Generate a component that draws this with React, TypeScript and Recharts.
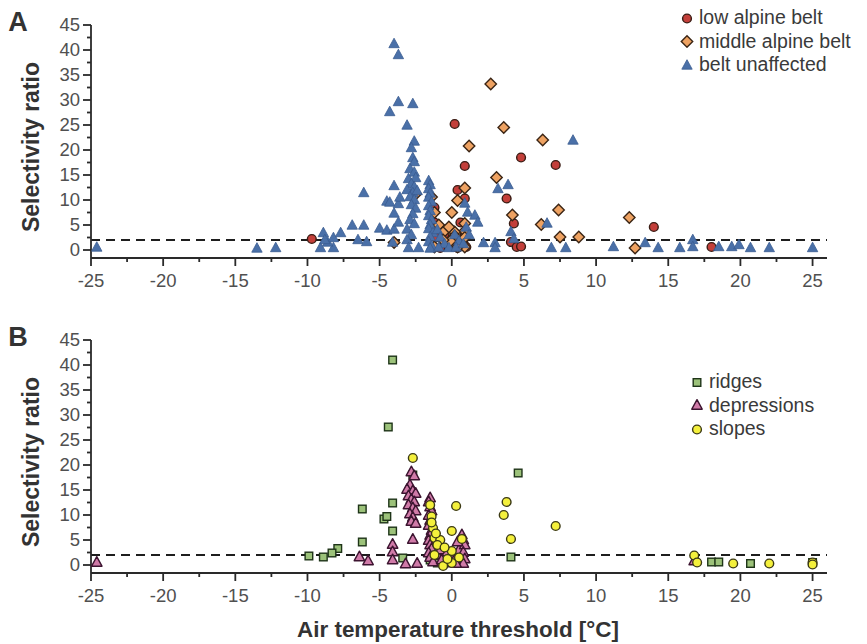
import React from 'react';
import { ScatterChart, Scatter, XAxis, YAxis, ReferenceLine, Legend } from 'recharts';

const FONT = "'Liberation Sans', Arial, sans-serif";

// axis ticks (majors every 5 get a label, the rest are minor marks)
const xTicks = [-25, -22.5, -20, -17.5, -15, -12.5, -10, -7.5, -5, -2.5, 0, 2.5, 5, 7.5, 10, 12.5, 15, 17.5, 20, 22.5, 25];
const yTicks = [0, 2.5, 5, 7.5, 10, 12.5, 15, 17.5, 20, 22.5, 25, 27.5, 30, 32.5, 35, 37.5, 40, 42.5, 45];
const threshold = 2;

// panel A: altitudinal belt
const lowAlpine: [number, number][] = [
  [-9.7, 2.2], [0.2, 25.2], [0.9, 16.8], [0.4, 12.0], [0.9, 10.3], [-1.2, 8.5], [4.8, 18.5], [7.2, 17.0],
  [3.8, 10.3], [4.3, 5.3], [4.1, 1.6], [4.5, 0.6], [4.8, 0.7], [-0.8, 0.4], [0.4, 0.4], [14.0, 4.6], [18.0, 0.6],
  [-1.4, 7.0], [-1.2, 5.5], [-0.9, 4.2], [-0.5, 3.2], [0.0, 2.0], [-0.3, 1.2], [0.9, 3.0], [0.8, 1.5], [1.0, 0.6],
  [-1.1, 2.5], [0.6, 5.5],
];
const middleAlpine: [number, number][] = [
  [2.7, 33.2], [3.6, 24.5], [1.2, 20.8], [6.3, 22.0], [-2.5, 11.2], [3.1, 14.5], [-1.4, 10.6], [0.9, 12.4],
  [0.4, 9.9], [0.0, 7.5], [-1.2, 7.5], [4.2, 7.0], [7.4, 8.0], [6.2, 5.1], [-4.0, 1.5], [8.8, 2.6], [7.5, 2.6],
  [0.9, 5.3], [0.9, 3.8], [-0.9, 5.0], [-0.5, 3.8], [0.2, 3.6], [0.2, 2.8], [0.9, 2.5], [0.9, 0.6], [0.4, 0.6],
  [-1.2, 0.6], [-0.1, 1.8], [12.3, 6.5], [12.7, 0.4], [-0.6, 2.0], [-0.2, 4.6],
];
const beltUnaffected: [number, number][] = [
  [-24.6, 0.5], [-13.5, 0.3], [-12.2, 0.4],
  [-9.1, 0.4], [-8.2, 0.4], [-8.9, 3.4], [-8.6, 1.5], [-8.2, 2.4], [-7.7, 3.4], [-8.8, 2.0],
  [-6.9, 4.9], [-6.5, 2.0], [-6.1, 4.9], [-5.9, 1.6], [-6.1, 11.4],
  [-5.0, 4.3], [-4.5, 3.9], [-4.0, 4.1], [-4.5, 9.7], [-4.3, 9.5], [-4.0, 12.8], [-4.0, 7.3], [-3.7, 5.5],
  [-3.7, 9.2], [-3.6, 10.5],
  [-4.0, 41.2], [-3.7, 39.0], [-3.7, 29.6], [-2.7, 29.2], [-4.3, 27.6], [-3.1, 24.9], [-2.6, 21.7], [-2.8, 20.4],
  [-2.7, 18.4], [-2.6, 17.6],
  [-2.9, 16.2], [-2.6, 15.5], [-3.0, 14.2], [-2.5, 14.4], [-2.8, 13.2], [-2.6, 12.6], [-3.1, 12.0], [-2.7, 11.4],
  [-2.4, 11.8], [-2.9, 10.6], [-2.6, 10.0], [-2.8, 9.0], [-2.5, 8.3], [-2.7, 7.2], [-2.9, 6.0], [-2.6, 5.2],
  [-3.1, 4.1], [-2.8, 3.0], [-3.1, 2.0], [-3.0, 0.4], [-2.3, 0.4], [-4.1, 1.5],
  [-1.6, 13.8], [-1.5, 13.0], [-1.6, 12.2], [-1.5, 11.3], [-1.6, 10.5], [-1.4, 9.6], [-1.6, 8.8], [-1.5, 7.8],
  [-1.6, 6.8], [-1.4, 6.0], [-1.5, 5.0], [-1.6, 4.2], [-1.3, 3.4], [-1.5, 2.6], [-1.6, 1.6], [-1.4, 0.8], [-1.5, 0.3],
  [-1.0, 4.0], [-0.8, 2.5], [-0.5, 1.2], [-0.2, 0.4], [0.2, 3.0], [0.5, 1.8], [0.3, 0.5], [-0.9, 0.5],
  [0.9, 9.3], [1.1, 7.5], [1.6, 6.9], [1.8, 5.5], [1.0, 4.5], [1.2, 3.0], [0.8, 1.2], [2.2, 1.4], [3.0, 1.4],
  [3.0, 0.4], [3.2, 12.2], [3.9, 13.0], [4.1, 3.6], [4.3, 2.2],
  [8.4, 21.9], [6.6, 5.3], [6.9, 0.4], [7.9, 0.4],
  [11.2, 0.6], [13.4, 1.4], [14.3, 0.4], [15.8, 0.4], [16.7, 2.0], [16.7, 0.6], [18.5, 0.6], [19.4, 0.6],
  [19.9, 1.0], [20.7, 0.4], [22.0, 0.4], [25.0, 0.4],
];

// panel B: landform
const ridges: [number, number][] = [
  [-4.1, 41.0], [-4.4, 27.6], [4.6, 18.4], [-2.7, 18.0], [-4.1, 12.4], [-6.2, 11.2], [-4.7, 9.2], [-4.5, 9.7],
  [-4.1, 6.8], [-6.2, 4.6], [-7.9, 3.3], [-8.3, 2.4], [-8.9, 1.6], [-9.9, 1.8], [-3.4, 1.4], [4.1, 1.6],
  [18.0, 0.6], [18.5, 0.6], [20.7, 0.3], [25.0, 0.5], [-1.5, 1.0], [-1.0, 0.4], [0.5, 0.8],
];
const depressions: [number, number][] = [
  [-24.6, 0.5], [-6.4, 1.6], [-5.8, 0.8], [-4.1, 4.1], [-4.1, 2.6], [-4.1, 1.0], [-3.2, 0.2], [-2.4, 0.3], [-2.7, 5.1],
  [-2.8, 18.6], [-2.6, 17.8], [-2.9, 16.0], [-3.1, 15.1], [-2.7, 14.8], [-2.5, 14.3], [-3.0, 13.8], [-2.8, 13.1],
  [-2.6, 12.6], [-3.0, 12.0], [-2.7, 11.4], [-2.5, 10.8], [-2.9, 10.2], [-2.7, 9.5], [-2.8, 8.7], [-2.5, 8.3],
  [-1.5, 13.4], [-1.6, 12.6], [-1.5, 11.6], [-1.4, 10.8], [-1.6, 9.9], [-1.5, 8.9], [-1.6, 7.9], [-1.4, 6.9],
  [-1.5, 5.9], [-1.6, 4.9], [-1.5, 4.0], [-1.4, 3.2], [-1.6, 2.4], [-1.5, 1.5], [-1.3, 0.6], [-1.0, 2.0],
  [-0.7, 1.0], [-0.4, 0.4], [-0.8, 3.0],
  [0.0, 2.0], [0.2, 1.0], [0.5, 3.0], [0.7, 6.0], [0.8, 5.0], [0.9, 4.0], [0.8, 2.5], [0.9, 1.2], [0.8, 0.3],
  [0.3, 0.3], [16.8, 0.8], [-0.3, 2.6], [0.4, 4.6],
];
const slopes: [number, number][] = [
  [-2.7, 21.4], [0.3, 11.8], [3.8, 12.6], [3.6, 10.0], [4.1, 5.2], [7.2, 7.8], [0.0, 6.8], [-1.5, 12.0],
  [-1.4, 9.7], [-1.3, 7.4], [-1.2, 5.4], [-0.8, 5.0], [0.0, 2.8], [0.0, 0.4], [-0.6, -0.2], [0.7, 5.2],
  [-1.0, 4.0], [-0.5, 3.5], [-1.2, 2.0], [0.5, 1.5], [-0.3, 1.2], [16.8, 1.9], [17.0, 0.5], [19.5, 0.3],
  [22.0, 0.3], [25.0, 0.5], [25.0, 0.1], [-1.4, 8.5], [-1.1, 6.3],
];

const toPts = (arr: [number, number][]) => arr.map(([x, y]) => ({ x, y }));

type Kind = 'circle' | 'diamond' | 'triangle' | 'square';

function Marker({ kind, cx, cy, fill, stroke, sw = 1.4 }: any) {
  if (cx == null || cy == null) return null;
  if (kind === 'circle') return <circle cx={cx} cy={cy} r={4.4} fill={fill} stroke={stroke} strokeWidth={sw} />;
  if (kind === 'diamond') {
    const r = 5.7;
    return <polygon points={`${cx},${cy - r} ${cx + r},${cy} ${cx},${cy + r} ${cx - r},${cy}`} fill={fill} stroke={stroke} strokeWidth={sw} />;
  }
  if (kind === 'triangle') {
    return <polygon points={`${cx},${cy - 5.8} ${cx + 5.2},${cy + 3.7} ${cx - 5.2},${cy + 3.7}`} fill={fill} stroke={stroke} strokeWidth={sw} strokeLinejoin="round" />;
  }
  return <rect x={cx - 3.8} y={cy - 3.8} width={7.6} height={7.6} fill={fill} stroke={stroke} strokeWidth={sw} />;
}

interface SeriesStyle { name: string; kind: Kind; fill: string; stroke: string; sw?: number; }

const seriesA: SeriesStyle[] = [
  { name: 'low alpine belt', kind: 'circle', fill: '#c33f3a', stroke: '#3a1c14' },
  { name: 'middle alpine belt', kind: 'diamond', fill: '#eea262', stroke: '#3a2414' },
  { name: 'belt unaffected', kind: 'triangle', fill: '#4a70a8', stroke: '#3a5c90', sw: 0.8 },
];
const seriesB: SeriesStyle[] = [
  { name: 'ridges', kind: 'square', fill: '#9cc27a', stroke: '#1e3418' },
  { name: 'depressions', kind: 'triangle', fill: '#d07aa8', stroke: '#3c1430' },
  { name: 'slopes', kind: 'circle', fill: '#f4f03c', stroke: '#3c3a14' },
];

const XTick = ({ x, y, payload }: any) => {
  const major = payload.value % 5 === 0;
  return (
    <g>
      <line x1={x} x2={x} y1={y} y2={y + (major ? 8 : 4)} stroke="#2a2a2a" strokeWidth={1.8} />
      {major && (
        <text x={x} y={y + 29} textAnchor="middle" fontSize={18.5} fill="#505050" fontFamily={FONT}>
          {payload.value}
        </text>
      )}
    </g>
  );
};

const YTick = ({ x, y, payload }: any) => {
  const major = payload.value % 5 === 0;
  return (
    <g>
      <line x1={x} x2={x - (major ? 8 : 4)} y1={y} y2={y} stroke="#2a2a2a" strokeWidth={1.8} />
      {major && (
        <text x={x - 11} y={y} dy="0.35em" textAnchor="end" fontSize={18.5} fill="#505050" fontFamily={FONT}>
          {payload.value}
        </text>
      )}
    </g>
  );
};

function LegendBox({ items }: { items: SeriesStyle[] }) {
  return (
    <div style={{ fontFamily: FONT, fontSize: 19.5, color: '#3a3a3a', lineHeight: '23.5px' }}>
      {items.map((s) => (
        <div key={s.name} style={{ display: 'flex', alignItems: 'center', whiteSpace: 'nowrap' }}>
          <svg width={14} height={14} style={{ marginRight: 5 }}>
            <Marker kind={s.kind} cx={7} cy={7.5} fill={s.fill} stroke={s.stroke} sw={s.sw ?? 1.4} />
          </svg>
          <span>{s.name}</span>
        </div>
      ))}
    </div>
  );
}

function Panel({ letter, series, data, height, top, legendPos, showTitle }: any) {
  return (
    <ScatterChart width={867} height={height} margin={{ top, right: 40, bottom: 0, left: 0 }}>
      <XAxis
        type="number"
        dataKey="x"
        domain={[-25, 26]}
        ticks={xTicks}
        interval={0}
        tick={<XTick />}
        tickSize={0}
        tickMargin={0}
        tickLine={false}
        axisLine={{ stroke: '#2a2a2a', strokeWidth: 1.8 }}
        height={height - top - 233}
        allowDataOverflow
        label={
          showTitle
            ? () => (
                <text
                  x={458}
                  y={337}
                  textAnchor="middle"
                  fontSize={22}
                  fontWeight="bold"
                  fill="#333"
                  fontFamily={FONT}
                  textLength={322}
                  lengthAdjust="spacingAndGlyphs"
                >
                  Air temperature threshold [°C]
                </text>
              )
            : undefined
        }
      />
      <YAxis
        type="number"
        dataKey="y"
        domain={[-1.6, 45]}
        ticks={yTicks}
        interval={0}
        tick={<YTick />}
        tickSize={0}
        tickMargin={0}
        tickLine={false}
        axisLine={{ stroke: '#2a2a2a', strokeWidth: 1.8 }}
        width={91}
        allowDataOverflow
        label={() => (
          <g>
            <text x={18} y={top + 6} textAnchor="middle" fontSize={27} fontWeight="bold" fill="#333" fontFamily={FONT}>
              {letter}
            </text>
            <text
              x={0}
              y={0}
              transform={`translate(39 ${top + 122}) rotate(-90)`}
              textAnchor="middle"
              fontSize={23}
              fontWeight="bold"
              fill="#333"
              fontFamily={FONT}
            >
              Selectivity ratio
            </text>
          </g>
        )}
      />
      <ReferenceLine y={threshold} stroke="#1e1e1e" strokeWidth={2} strokeDasharray="9 6" />
      {series.map((s: SeriesStyle, i: number) => (
        <Scatter
          key={s.name}
          name={s.name}
          data={toPts(data[i])}
          isAnimationActive={false}
          shape={(p: any) => <Marker kind={s.kind} cx={p.cx} cy={p.cy} fill={s.fill} stroke={s.stroke} sw={s.sw ?? 1.4} />}
        />
      ))}
      <Legend
        layout="horizontal"
        verticalAlign="middle"
        align="center"
        content={() => <LegendBox items={series} />}
        wrapperStyle={{ position: 'absolute', top: legendPos[1], left: legendPos[0], width: 190 }}
      />
    </ScatterChart>
  );
}

export default function App() {
  return (
    <div style={{ position: 'absolute', left: 0, top: 0, width: 867, height: 644, background: '#fff' }}>
      <div style={{ position: 'absolute', left: 0, top: 0 }}>
        <Panel
          letter="A"
          series={seriesA}
          data={[lowAlpine, middleAlpine, beltUnaffected]}
          height={300}
          top={25}
          legendPos={[680, 6]}
        />
      </div>
      <div style={{ position: 'absolute', left: 0, top: 300 }}>
        <Panel
          letter="B"
          series={seriesB}
          data={[ridges, depressions, slopes]}
          height={344}
          top={40}
          legendPos={[690, 70]}
          showTitle
        />
      </div>
    </div>
  );
}
